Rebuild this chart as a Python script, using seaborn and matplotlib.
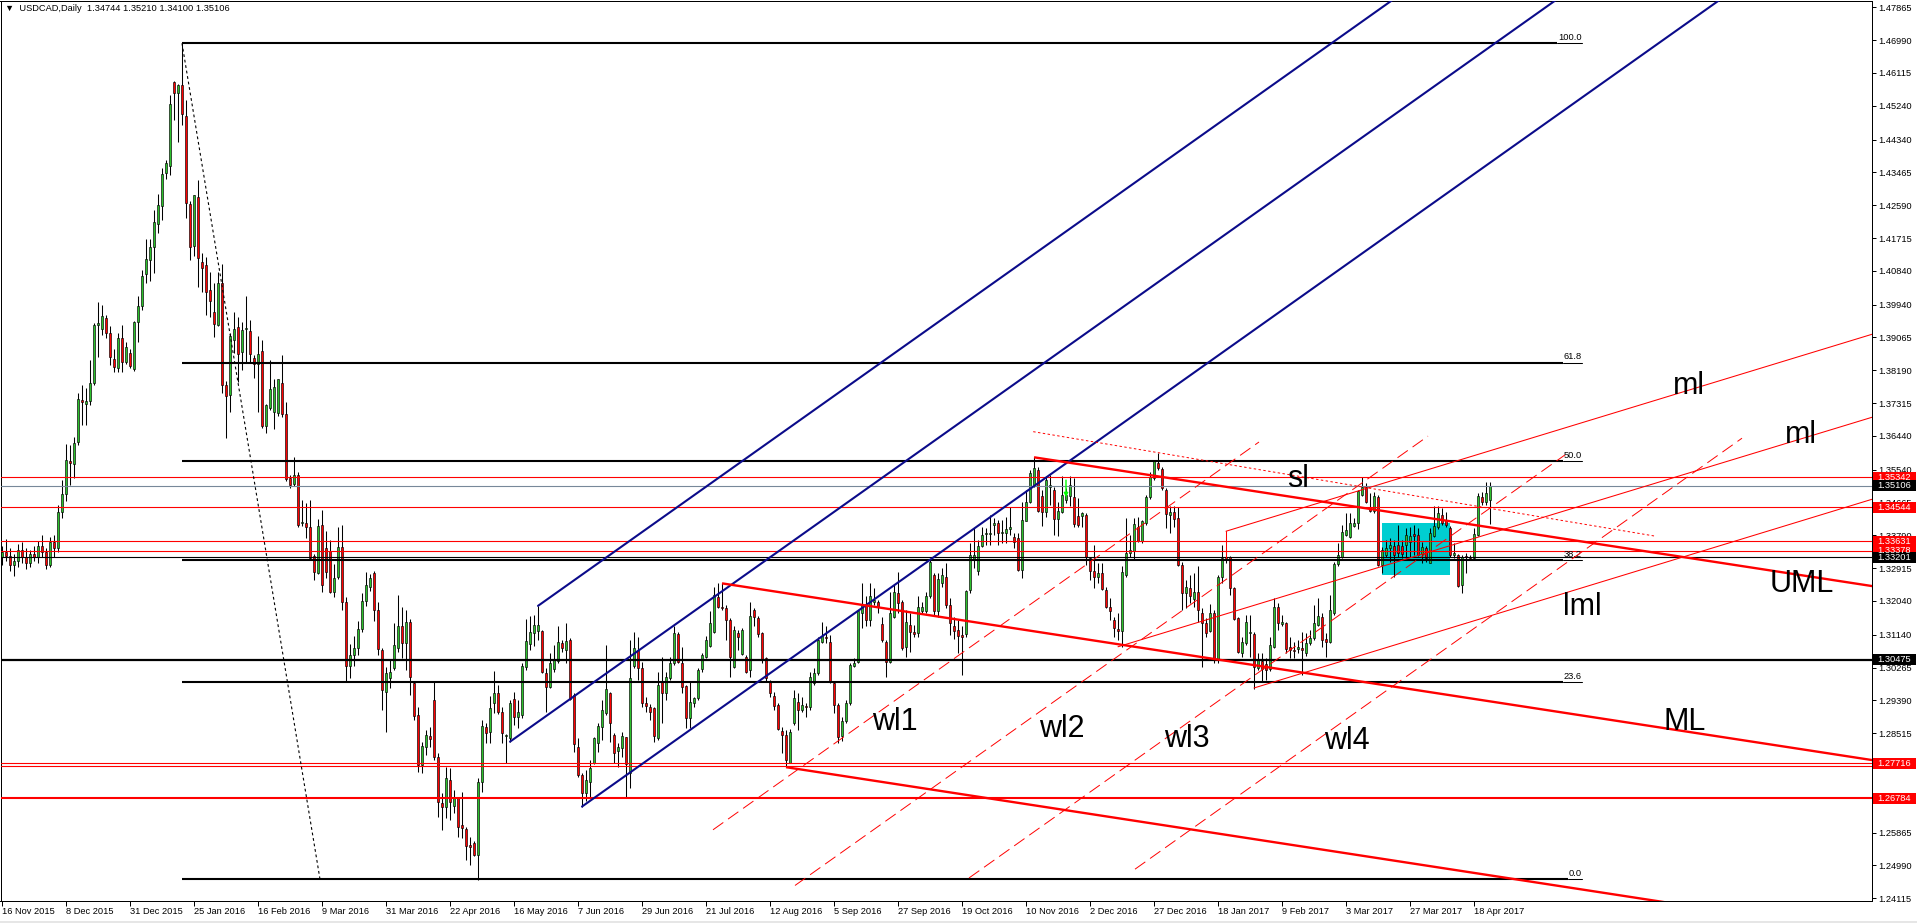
import matplotlib
matplotlib.use("Agg")
import matplotlib.pyplot as plt
import matplotlib.transforms as mtransforms
from matplotlib.patches import Rectangle
import numpy as np
import seaborn as sns

# ---------------- data ----------------
title_text = "\u25BC  USDCAD,Daily  1.34744 1.35210 1.34100 1.35106"

date_labels = ["16 Nov 2015", "8 Dec 2015", "31 Dec 2015", "25 Jan 2016", "16 Feb 2016",
               "9 Mar 2016", "31 Mar 2016", "22 Apr 2016", "16 May 2016", "7 Jun 2016",
               "29 Jun 2016", "21 Jul 2016", "12 Aug 2016", "5 Sep 2016", "27 Sep 2016",
               "19 Oct 2016", "10 Nov 2016", "2 Dec 2016", "27 Dec 2016", "18 Jan 2017",
               "9 Feb 2017", "3 Mar 2017", "27 Mar 2017", "18 Apr 2017"]
date_label_bars = [0, 16, 32, 48, 64, 80, 96, 112, 128, 144, 160, 176, 192, 208, 224,
                   240, 256, 272, 288, 304, 320, 336, 352, 368]

price_ticks = [1.47865, 1.46990, 1.46115, 1.45240, 1.44340, 1.43465, 1.42590, 1.41715,
               1.40840, 1.39940, 1.39065, 1.38190, 1.37315, 1.36440, 1.35540, 1.34665,
               1.33790, 1.32915, 1.32040, 1.31140, 1.30265, 1.29390, 1.28515, 1.25865,
               1.24990, 1.24115]

# daily OHLC in pips (1e-4)
opens = [
13320,13335,13325,13300,13310,13340,13320,13305,13330,13320,
13350,13335,13300,13360,13345,13440,13490,13578,13568,13629,
13740,13730,13737,13784,13939,13928,13958,13919,13848,13824,
13904,13840,13866,13822,13948,13991,14075,14113,14147,14209,
14258,14344,14364,14587,14557,14579,14498,14261,14149,14280,
14108,14099,14033,13975,13940,14051,13781,13753,13899,13935,
13868,13928,13924,13851,13835,13871,13671,13719,13709,13706,
13784,13702,13532,13517,13540,13412,13412,13400,13325,13279,
13406,13346,13336,13229,13268,13348,13200,13030,13060,13080,
13130,13205,13242,13278,13180,13073,12962,12998,13025,13080,
13137,13093,13148,12986,12900,12767,12816,12844,12940,12787,
12666,12654,12727,12658,12681,12607,12595,12554,12558,12527,
12722,12869,12856,12933,12960,12907,12844,12838,12942,12894,
12900,13027,13089,13118,13125,13125,13013,12976,13022,13044,
13091,13073,13100,12954,12816,12740,12693,12722,12773,12826,
12867,12906,12960,12847,12805,12811,12841,12745,13031,13073,
13025,12933,12922,12918,12838,12989,12960,12998,13040,13116,
13040,12977,12891,12931,12945,13022,13054,13084,13122,13214,
13189,13184,13153,13029,13118,13063,13056,13020,13180,13158,
13118,13051,12989,12951,12927,12858,12847,12773,12880,12936,
12914,12924,12921,12985,13011,13096,13109,13096,12985,12927,
12844,12885,12931,13031,13042,13171,13193,13153,13200,13202,
13143,13096,13042,13162,13224,13202,13082,13140,13120,13118,
13176,13176,13216,13273,13176,13253,13267,13193,13137,13127,
13114,13116,13232,13313,13285,13351,13383,13383,13407,13413,
13386,13386,13396,13374,13371,13287,13418,13469,13513,13553,
13484,13442,13507,13500,13422,13440,13473,13484,13482,13431,
13431,13433,13318,13285,13269,13278,13233,13189,13153,13129,
13125,13273,13331,13338,13402,13365,13411,13480,13531,13573,
13555,13500,13433,13440,13424,13300,13224,13238,13209,13229,
13173,13146,13125,13173,13047,13269,13318,13320,13238,13158,
13066,13091,13118,13116,13025,13045,13036,13022,13082,13187,
13143,13145,13082,13073,13075,13078,13065,13093,13104,13140,
13162,13102,13096,13173,13303,13322,13380,13374,13404,13411,
13487,13507,13451,13445,13482,13300,13327,13344,13351,13353,
13351,13353,13360,13383,13380,13329,13344,13306,13377,13400,
13433,13420,13398,13327,13327,13247,13324,13322,13318,13380,
13480,13469,13474]
highs = [
13350,13370,13345,13330,13355,13360,13345,13340,13350,13365,
13380,13345,13375,13380,13460,13526,13623,13620,13642,13758,
13780,13773,13846,13945,14000,13993,13965,13937,13875,13917,
13940,13895,13875,13950,14018,14086,14168,14168,14246,14290,
14357,14380,14553,14591,14582,14690,14539,14270,14287,14326,
14131,14120,14082,14051,14082,14102,13790,13917,13975,13962,
13948,14018,13953,13859,13910,13900,13730,13846,13797,13797,
13860,13734,13540,13587,13548,13473,13465,13473,13330,13422,
13446,13391,13366,13303,13402,13406,13215,13090,13110,13150,
13225,13280,13275,13285,13200,13080,13027,13047,13146,13220,
13189,13180,13155,12989,12922,12829,12860,12869,12989,12800,
12691,12762,12758,12700,12682,12696,12602,12574,12565,12731,
12887,12878,12951,13017,12980,12922,12850,12940,12962,12940,
13038,13155,13164,13167,13191,13127,13025,13065,13087,13136,
13100,13144,13104,12958,12838,12745,12754,12780,12842,12878,
12940,13087,12962,12851,12826,12856,12842,13100,13122,13109,
13042,12949,12930,12922,13016,13056,13016,13056,13136,13122,
13082,12980,12989,12949,13025,13065,13111,13176,13242,13251,
13251,13193,13158,13136,13127,13131,13060,13202,13184,13164,
13122,13056,12994,12962,12931,12869,12860,12862,12967,12958,
12949,12931,13016,13025,13109,13149,13136,13113,12989,12931,
12896,12940,13038,13051,13180,13251,13216,13251,13238,13207,
13162,13100,13229,13247,13282,13207,13180,13171,13140,13216,
13202,13229,13313,13278,13278,13291,13306,13211,13162,13153,
13136,13233,13358,13398,13367,13402,13398,13433,13424,13420,
13420,13429,13455,13384,13384,13469,13500,13553,13587,13562,
13500,13536,13540,13509,13469,13536,13504,13536,13531,13478,
13442,13438,13322,13353,13304,13304,13242,13211,13162,13173,
13296,13424,13380,13424,13429,13420,13487,13549,13580,13598,
13560,13504,13456,13458,13454,13309,13260,13273,13278,13296,
13185,13158,13196,13180,13273,13353,13340,13324,13242,13162,
13109,13167,13167,13122,13065,13065,13051,13109,13211,13198,
13167,13149,13109,13096,13100,13122,13118,13127,13193,13211,
13171,13118,13220,13309,13358,13407,13438,13438,13424,13500,
13534,13518,13491,13495,13487,13349,13367,13371,13367,13407,
13367,13398,13402,13407,13398,13362,13351,13398,13456,13457,
13451,13442,13404,13358,13329,13327,13331,13327,13398,13491,
13495,13522,13521]
lows = [
13300,13310,13285,13270,13295,13305,13290,13295,13310,13305,
13320,13290,13295,13320,13335,13425,13470,13513,13532,13620,
13673,13673,13726,13780,13855,13913,13904,13833,13815,13815,
13815,13835,13825,13818,13895,13979,14051,14056,14078,14186,
14220,14330,14340,14486,14428,14473,14224,14113,14124,14042,
14028,13966,13962,13907,13938,13758,13638,13709,13864,13789,
13820,13842,13842,13798,13709,13664,13652,13714,13662,13698,
13695,13524,13504,13510,13402,13405,13371,13314,13260,13277,
13229,13266,13224,13215,13262,13180,12990,13000,13030,13060,
13120,13190,13230,13150,13060,12914,12856,12971,13020,13069,
13051,13020,12953,12887,12749,12745,12794,12816,12780,12629,
12594,12625,12620,12638,12576,12571,12514,12500,12523,12460,
12696,12825,12825,12905,12903,12825,12771,12829,12874,12865,
12891,13020,13073,13084,13100,13011,12909,12971,13016,13040,
13069,13038,12940,12802,12736,12656,12672,12678,12770,12802,
12834,12900,12829,12771,12762,12789,12678,12705,13025,12993,
12922,12909,12887,12829,12834,12878,12940,12994,13033,13038,
12958,12865,12865,12922,12940,13016,13051,13081,13118,13184,
13180,13100,13002,13025,13073,13060,13011,13002,13136,13109,
13038,12989,12949,12914,12860,12798,12761,12771,12873,12860,
12909,12896,12914,12980,13007,13091,13091,12985,12905,12825,
12832,12878,12927,13029,13038,13131,13136,13136,13193,13171,
13096,13002,13038,13158,13171,13073,13056,13069,13109,13109,
13171,13171,13211,13167,13162,13242,13185,13114,13102,13065,
13007,13109,13224,13291,13273,13349,13353,13353,13380,13353,
13358,13358,13380,13344,13285,13265,13416,13464,13509,13442,
13404,13429,13460,13380,13376,13438,13464,13456,13402,13402,
13402,13300,13260,13238,13251,13232,13185,13153,13109,13100,
13082,13269,13320,13313,13360,13358,13407,13475,13527,13553,
13500,13398,13384,13402,13298,13180,13184,13198,13189,13149,
13029,13109,13120,13040,13038,13251,13304,13220,13153,13065,
13056,13087,13056,12969,13020,12989,12993,13018,13078,13127,
13136,13065,13051,13051,13065,13007,13058,13087,13100,13136,
13082,13056,13091,13167,13297,13318,13376,13371,13400,13395,
13484,13464,13442,13438,13297,13278,13320,13309,13269,13322,
13318,13318,13322,13327,13324,13306,13309,13304,13375,13395,
13407,13400,13322,13318,13242,13225,13278,13313,13315,13376,
13460,13460,13410]
closes = [
13335,13325,13300,13310,13340,13320,13305,13330,13320,13350,
13335,13300,13360,13345,13440,13490,13581,13571,13624,13742,
13735,13737,13784,13939,13945,13964,13919,13854,13829,13904,
13842,13880,13830,13947,13991,14071,14115,14147,14213,14260,
14341,14371,14528,14559,14579,14503,14266,14147,14286,14117,
14091,14028,14004,13942,14051,13781,13750,13910,13928,13862,
13926,13931,13862,13835,13862,13671,13726,13768,13775,13795,
13702,13528,13513,13541,13406,13412,13402,13318,13281,13404,
13246,13281,13229,13266,13348,13200,13030,13060,13080,13130,
13205,13246,13266,13180,13075,12967,13011,13014,13087,13137,
13091,13148,13001,12897,12767,12818,12847,12835,12787,12669,
12654,12731,12669,12678,12602,12598,12551,12547,12527,12722,
12871,12853,12918,12960,12909,12851,12846,12933,12894,12909,
13030,13097,13120,13139,13140,13016,12974,13038,13049,13095,
13078,13097,12942,12823,12740,12691,12727,12758,12838,12872,
12914,12969,12878,12800,12816,12844,12770,12998,13078,13025,
12933,12924,12909,12844,12980,12958,13002,13040,13118,13042,
12974,12891,12936,12945,13020,13060,13100,13146,13220,13187,
13184,13153,13056,13127,13109,13127,13016,13164,13160,13116,
13047,12998,12960,12924,12862,12847,12780,12856,12945,12914,
12927,12921,13002,13011,13100,13111,13104,12989,12927,12842,
12885,12931,13033,13038,13176,13193,13153,13216,13207,13189,
13100,13042,13171,13229,13198,13078,13149,13120,13116,13189,
13187,13216,13309,13176,13262,13273,13193,13145,13125,13111,
13109,13231,13327,13327,13351,13380,13385,13385,13411,13385,
13388,13395,13400,13360,13287,13420,13469,13544,13558,13445,
13442,13527,13513,13422,13445,13487,13487,13513,13409,13407,
13438,13320,13285,13269,13278,13235,13189,13178,13131,13125,
13282,13331,13340,13409,13365,13416,13480,13534,13576,13558,
13504,13436,13440,13422,13300,13224,13242,13217,13229,13180,
13145,13118,13173,13047,13269,13318,13312,13238,13155,13069,
13096,13149,13121,13029,13049,13022,13020,13087,13187,13145,
13149,13075,13073,13072,13081,13073,13093,13104,13145,13164,
13100,13096,13180,13303,13327,13389,13393,13411,13411,13496,
13509,13469,13445,13484,13300,13340,13344,13353,13327,13331,
13329,13380,13376,13376,13327,13349,13318,13384,13404,13439,
13413,13407,13327,13331,13244,13322,13320,13318,13383,13484,
13469,13493,13511]

# horizontal levels
red_levels = [1.35342, 1.34544, 1.33631, 1.33378, 1.27716]
red_level_extra = [1.27650]
red_thick_levels = [1.26784]
black_thin_levels = [1.33201]
black_thick_levels = [1.30475]
bid_level = 1.35106
axis_boxes = [(1.35342, "#FF0000"), (1.35106, "#000000"), (1.34544, "#FF0000"),
              (1.33631, "#FF0000"), (1.33378, "#FF0000"), (1.33201, "#000000"),
              (1.30475, "#000000"), (1.27716, "#FF0000"), (1.26784, "#FF0000")]

# Fibonacci retracement (anchor bars / prices)
fib_start_bar, fib_end_bar = 45, 395
fib_high, fib_low = 1.46906, 1.24622
fib_levels = [0.0, 23.6, 38.2, 50.0, 61.8, 100.0]
fib_trend = ([45, 79.5], [1.46906, 1.24622])

# Andrews pitchfork (blue): P1, P2, P3
blue_fork = [(127, 1.2829), (134, 1.3191), (145, 1.2656)]
# Andrews pitchfork (red, thick): P1, P2, P3
red_fork = [(180, 1.3251), (258, 1.3587), (196, 1.2761)]
# thin red parallel lines: start point and point at right edge
thin_red_lines = [((306, 1.33899), (467.5, 1.39149)),
                  ((279, 1.30820), (467.5, 1.36937)),
                  ((313, 1.29721), (467.5, 1.34751))]
thin_red_vertical = (306, 1.33899, 1.33178)
# red dashed warning lines (segments)
warning_lines = [((177.75, 1.25941), (314.25, 1.36278)),
                 ((198.25, 1.24457), (356.5, 1.36435)),
                 ((241.75, 1.24657), (390.75, 1.35934)),
                 ((283.25, 1.24891), (435.0, 1.36379))]
# red dotted sliding line
sl_line = ((257.8, 1.36553), (413.5, 1.33765))
# cyan box
box_bars = (345.1, 362.0)
box_prices = (1.32733, 1.34111)
# lime arrow
lime_arrow = (266, 1.35337, 1.34732)

# labels: text, bar, baseline price
labels = [("ml", 417.75, 1.37558), ("ml", 445.75, 1.36260), ("UML", 442.0, 1.32288),
          ("lml", 390.25, 1.31667), ("ML", 415.25, 1.28602), ("wl1", 217.4, 1.28602),
          ("wl2", 259.25, 1.28416), ("wl3", 290.5, 1.28149), ("wl4", 330.5, 1.28096),
          ("sl", 321.2, 1.35087)]

# ---------------- style ----------------
sns.set_theme(style="white")
plt.rcParams["font.family"] = ["Liberation Sans", "DejaVu Sans"]
plt.rcParams["axes.linewidth"] = 0.72

W, H = 1917, 923
fig = plt.figure(figsize=(W / 100, H / 100), dpi=100)
fig.patch.set_facecolor("white")
ax_l, ax_r, ax_t, ax_b = 0.5, 1872.0, 0.5, 901.0
ax = fig.add_axes([ax_l / W, 1 - ax_b / H, (ax_r - ax_l) / W, (ax_b - ax_t) / H])
ax.set_facecolor("white")
XMIN, XMAX = -0.375, 467.5
YMIN, YMAX = 1.24043, 1.48046
ax.set_xlim(XMIN, XMAX)
ax.set_ylim(YMIN, YMAX)
for s in ax.spines.values():
    s.set_color("black")
    s.set_linewidth(0.72)
ppx = (YMAX - YMIN) / (ax_b - ax_t)   # price per pixel
bpx = 0.25                              # bars per pixel

# ---------------- candles ----------------
o = np.array(opens) / 1e4
h = np.array(highs) / 1e4
l = np.array(lows) / 1e4
c = np.array(closes) / 1e4
o[-1], h[-1], l[-1], c[-1] = 1.34744, 1.35210, 1.34100, 1.35106
bars = np.arange(len(c))
up = c >= o
body_lo = np.minimum(o, c)
body_h = np.maximum(np.abs(c - o), ppx * 0.6)

ax.add_patch(Rectangle((box_bars[0], box_prices[0]), box_bars[1] - box_bars[0],
                       box_prices[1] - box_prices[0], fc="#00CED1", ec="none", zorder=1))

ax.vlines(bars, l, h, color="black", lw=0.75, zorder=3)
ax.bar(bars[up], body_h[up], bottom=body_lo[up], width=0.72, color="#2CC12C",
       edgecolor="black", linewidth=0.45, zorder=4)
ax.bar(bars[~up], body_h[~up], bottom=body_lo[~up], width=0.72, color="#FF0000",
       edgecolor="black", linewidth=0.45, zorder=4)

# ---------------- horizontal lines ----------------
for v in red_levels + red_level_extra:
    ax.axhline(v, color="#FF0000", lw=0.8, zorder=5)
for v in red_thick_levels:
    ax.axhline(v, color="#FF0000", lw=1.5, zorder=5)
for v in black_thin_levels:
    ax.axhline(v, color="black", lw=0.8, zorder=5)
for v in black_thick_levels:
    ax.axhline(v, color="black", lw=1.6, zorder=5)
ax.axhline(bid_level, color="#778899", lw=0.8, zorder=5)

# ---------------- fibonacci ----------------
renderer = fig.canvas.get_renderer()
for lv in fib_levels:
    p = fib_low + lv / 100.0 * (fib_high - fib_low)
    t = ax.text(fib_end_bar, p + 1.2 * ppx, f"{lv:.1f}", ha="right", va="bottom",
                fontsize=6.7, color="black", zorder=7)
    wpx = t.get_window_extent(renderer=renderer).width
    thick_end = fib_end_bar - (wpx + 1) * bpx
    ax.plot([fib_start_bar, thick_end], [p, p], color="black", lw=1.5, zorder=6,
            solid_capstyle="butt")
    ax.plot([thick_end, fib_end_bar], [p, p], color="black", lw=0.75, zorder=6)
ax.plot(fib_trend[0], fib_trend[1], color="black", lw=0.8, linestyle=(0, (2.5, 2.5)),
        zorder=6)


# ---------------- pitchforks ----------------
def fork_lines(pts, x_end=XMAX + 5):
    (b1, p1), (b2, p2), (b3, p3) = pts
    mb, mp = (b2 + b3) / 2.0, (p2 + p3) / 2.0
    slope = (mp - p1) / (mb - b1)
    out = []
    for (bb, pp) in pts:
        out.append(([bb, x_end], [pp, pp + slope * (x_end - bb)]))
    return out


for xs, ys in fork_lines(blue_fork):
    sns.lineplot(x=xs, y=ys, ax=ax, color="#0B0B8A", linewidth=1.5, estimator=None,
                 sort=False, legend=False, zorder=8)
for xs, ys in fork_lines(red_fork):
    ax.plot(xs, ys, color="#FF0000", lw=1.7, zorder=8, solid_capstyle="butt")

for (s, e) in thin_red_lines:
    ax.plot([s[0], e[0]], [s[1], e[1]], color="#FF0000", lw=0.75, zorder=8)
ax.plot([thin_red_vertical[0]] * 2, thin_red_vertical[1:], color="#FF0000", lw=0.75,
        zorder=8)
for (s, e) in warning_lines:
    ax.plot([s[0], e[0]], [s[1], e[1]], color="#FF0000", lw=0.7,
            linestyle=(0, (13, 6)), zorder=8)
ax.plot([sl_line[0][0], sl_line[1][0]], [sl_line[0][1], sl_line[1][1]], color="#FF0000",
        lw=0.7, linestyle=(0, (2.5, 2.5)), zorder=8)
ax.annotate("", xy=(lime_arrow[0], lime_arrow[2]), xytext=(lime_arrow[0], lime_arrow[1]),
            arrowprops=dict(arrowstyle="-|>", color="#00FF00", lw=1.0, mutation_scale=6),
            zorder=9)

for txt, bx, py in labels:
    ax.text(bx, py, txt, fontsize=22, color="black", ha="left", va="baseline",
            family=["Liberation Sans", "DejaVu Sans"], zorder=10)

# ---------------- axes ticks ----------------
ax.yaxis.tick_right()
ax.set_yticks(price_ticks)
ax.set_yticklabels([f"{v:.5f}" for v in price_ticks])
ax.set_xticks(date_label_bars)
ax.set_xticklabels(date_labels)
for lab in ax.get_xticklabels():
    lab.set_ha("left")
ax.tick_params(axis="y", which="both", right=True, left=False, direction="out",
               length=2.6, width=0.72, pad=2.2, labelsize=6.7, colors="black")
ax.tick_params(axis="x", which="both", bottom=True, top=False, direction="out",
               length=3.3, width=0.72, pad=0.8, labelsize=6.7, colors="black")
ax.grid(False)

# ---------------- right-axis price boxes ----------------
trans = mtransforms.blended_transform_factory(ax.transAxes, ax.transData)
ax_w = ax_r - ax_l
bx0 = (1873 - ax_l) / ax_w
bw = 43.0 / ax_w
bh = 11.0 * ppx
for v, col in axis_boxes:
    ax.add_patch(Rectangle((bx0, v - bh / 2), bw, bh, transform=trans, fc=col, ec="none",
                           clip_on=False, zorder=20))
    ax.text((1877 - ax_l) / ax_w, v, f"{v:.5f}", transform=trans, color="white",
            fontsize=6.7, va="center", ha="left", clip_on=False, zorder=21)

# title
fig.text(5 / W, 1 - 8.5 / H, title_text, fontsize=6.7, color="black", ha="left",
         va="center")

# bottom strip
fig.patches.append(Rectangle((0, 0), 1, 2 / H, transform=fig.transFigure,
                             fc="#E6E6E6", ec="none", zorder=0))

fig.savefig("out.png", dpi=100, facecolor="white")
